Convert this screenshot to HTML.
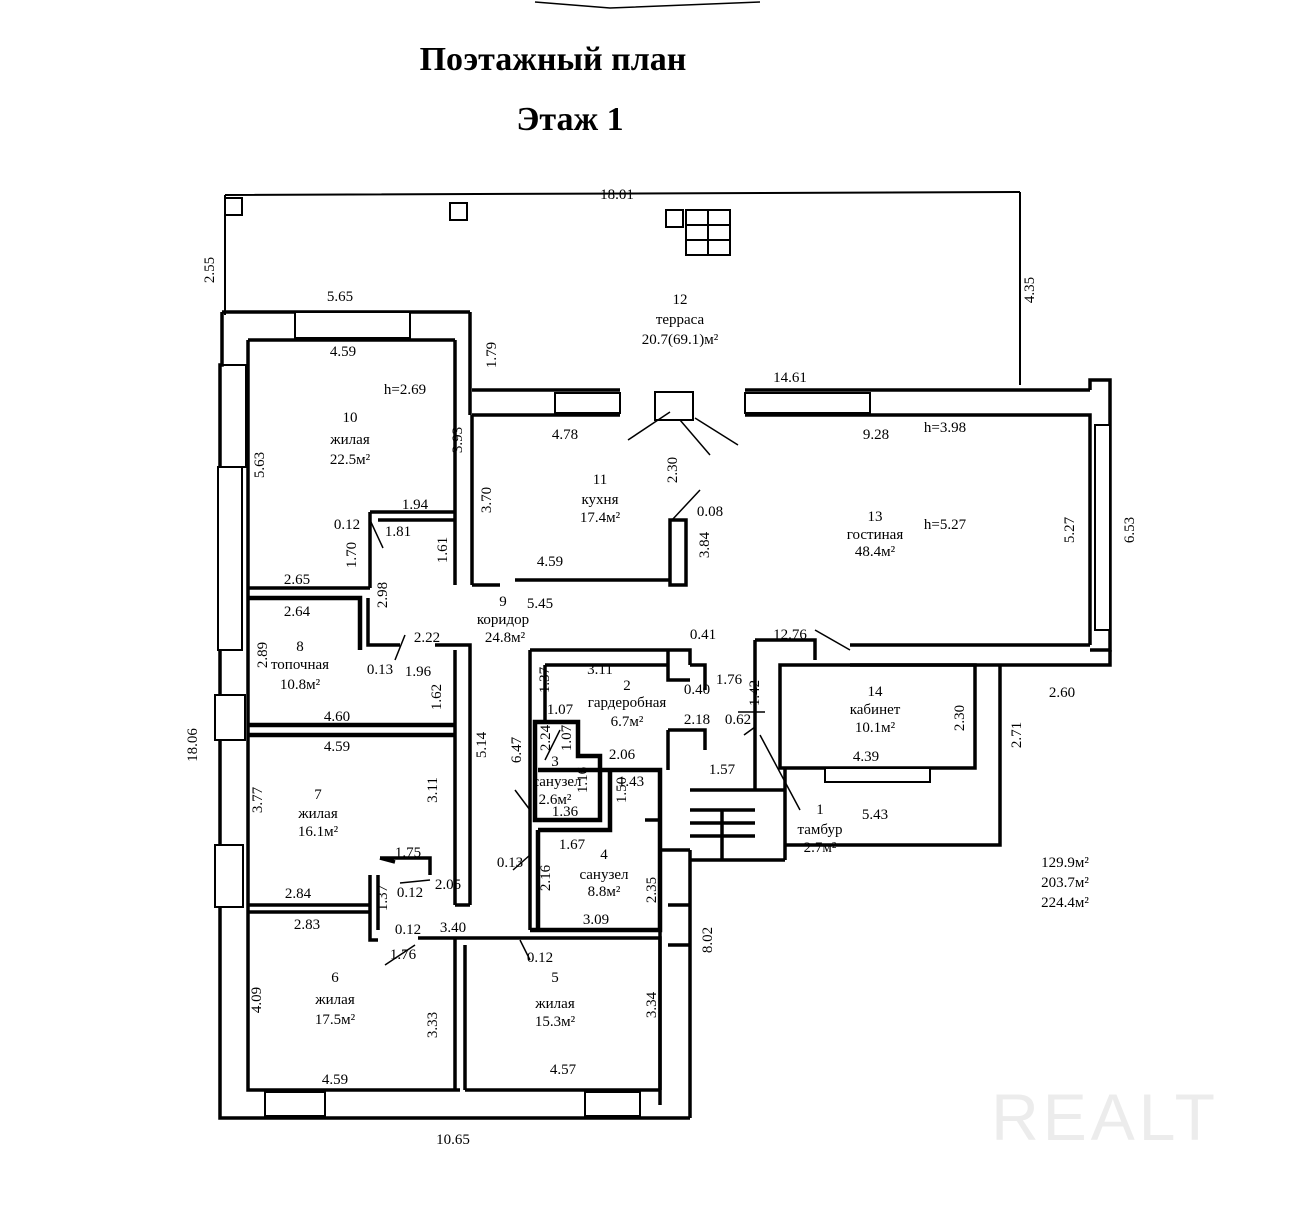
<!DOCTYPE html>
<html><head><meta charset="utf-8">
<style>
html,body{margin:0;padding:0;background:#fff;}
svg{display:block;}
text{font-family:"Liberation Serif","DejaVu Serif",serif;font-size:15px;fill:#000;text-anchor:middle;}
.t{font-size:34px;font-weight:bold;}
</style></head><body>
<svg width="1296" height="1209" viewBox="0 0 1296 1209" xmlns="http://www.w3.org/2000/svg">
<g fill="none" stroke="#000" stroke-width="2">
<path d="M535 2 L610 8 L760 2" stroke-width="1.5"/>
<path d="M225 195 L1020 192 M225 195 L225 315 M1020 192 L1020 385"/>
<rect x="225" y="198" width="17" height="17"/>
<rect x="450" y="203" width="17" height="17"/>
<rect x="666" y="210" width="17" height="17"/>
<rect x="686" y="210" width="44" height="45"/>
<path d="M708 210 V255 M686 225 H730 M686 240 H730"/>
<rect x="655" y="392" width="38" height="28"/>
</g>
<g fill="none" stroke="#000" stroke-width="3.5">
<path d="M222 312 L470 312 M222 312 L222 365 L220 365 L220 1118 L690 1118 M248 340 L455 340 M248 340 L248 1090 L460 1090"/>
<path d="M455 340 V585 M470 312 V415 M472 415 V585"/>
<path d="M472 390 H620 M472 415 H620 M745 390 H1090 M745 415 H1090 L1090 645 M1090 390 V380 H1110 V650 H1090"/>
<path d="M515 580 H670 M472 585 H500" />
<rect x="670" y="520" width="16" height="65"/>
<path d="M850 645 H1090 M850 665 H1000 V845 H785 M1110 650 V665 H1000"/>
<rect x="780" y="665" width="195" height="103"/>
<path d="M755 640 V790 H785 M755 640 H815 V660 M785 768 V860 M690 860 H785 M690 790 H770"/>
<path d="M690 810 H755 M690 823 H755 M690 836 H755 M722 810 V860"/>
<path d="M530 650 H690 V665 M530 650 V930 M545 665 H668 M545 665 V720"/>
<path d="M668 650 V680 H690 M690 665 H705 V690 M668 730 H705 V750 M668 730 V770"/>
<path d="M248 598 H360 V650 M248 725 H455 M248 735 H455" stroke-width="4.5"/>
<path d="M368 598 V645 H400"/>
<path d="M435 645 H470 V735 M455 650 V905 M470 735 V905 M455 905 H470"/>
<path d="M248 588 H370 M370 512 H455 M370 512 V588 M378 520 H455"/>
<path d="M248 905 H370 M248 912 H370 M370 875 V940 H378 M378 875 V930 M380 858 H430 V875 M380 858 L395 862"/>
<path d="M418 938 H485 M455 938 V1090 M465 945 V1090 M465 1090 H660 M485 938 H660 V1090"/>
<path d="M535 722 H578 V756 H600 V820 H535 Z" stroke-width="4.5"/>
<path d="M538 770 H660 V930 H530 M610 770 V830 H538 M538 830 V930" stroke-width="4.5"/>
<path d="M645 820 H660 M660 850 H690 M660 850 V1105 M690 850 V1118 M668 905 H690 V945 H668"/>
</g>
<g fill="#fff" stroke="#000" stroke-width="2">
<rect x="295" y="312" width="115" height="26"/>
<rect x="555" y="393" width="65" height="20"/>
<rect x="745" y="393" width="125" height="20"/>
<rect x="1095" y="425" width="15" height="205"/>
<rect x="218" y="467" width="24" height="183"/>
<rect x="215" y="695" width="30" height="45"/>
<rect x="215" y="845" width="28" height="62"/>
<rect x="265" y="1092" width="60" height="24"/>
<rect x="585" y="1092" width="55" height="24"/>
<rect x="825" y="768" width="105" height="14"/>
<rect x="220" y="365" width="26" height="102" fill="none"/>
</g>
<g stroke="#000" stroke-width="1.5">
<path d="M628 440 L670 412 M680 420 L710 455 M695 418 L738 445 M672 520 L700 490 M815 630 L850 650 M370 520 L383 548 M760 735 L800 810 M744 735 L755 727 M738 712 H765 M515 790 L530 810 M513 870 L530 855 M520 940 L530 960 M385 965 L415 945 M400 883 L430 880 M395 660 L405 635 M545 760 L560 730"/>
</g>
<text class="t" x="553" y="70">Поэтажный план</text>
<text class="t" x="570" y="130">Этаж 1</text>
<g>
<text x="617" y="199">18.01</text>
<text x="340" y="301">5.65</text><text x="343" y="356">4.59</text>
<text x="405" y="394">h=2.69</text><text x="350" y="422">10</text><text x="350" y="444">жилая</text><text x="350" y="464">22.5м²</text>
<text x="680" y="304">12</text><text x="680" y="324">терраса</text><text x="680" y="344">20.7(69.1)м²</text>
<text x="790" y="382">14.61</text><text x="565" y="439">4.78</text><text x="876" y="439">9.28</text><text x="945" y="432">h=3.98</text>
<text x="600" y="484">11</text><text x="600" y="504">кухня</text><text x="600" y="522">17.4м²</text><text x="710" y="516">0.08</text>
<text x="875" y="521">13</text><text x="875" y="539">гостиная</text><text x="875" y="556">48.4м²</text><text x="945" y="529">h=5.27</text>
<text x="415" y="509">1.94</text><text x="347" y="529">0.12</text><text x="398" y="536">1.81</text><text x="550" y="566">4.59</text>
<text x="297" y="584">2.65</text><text x="503" y="606">9</text><text x="540" y="608">5.45</text><text x="503" y="624">коридор</text><text x="505" y="642">24.8м²</text>
<text x="297" y="616">2.64</text><text x="427" y="642">2.22</text><text x="300" y="651">8</text><text x="300" y="669">топочная</text><text x="300" y="689">10.8м²</text>
<text x="380" y="674">0.13</text><text x="418" y="676">1.96</text><text x="703" y="639">0.41</text><text x="790" y="639">12.76</text>
<text x="600" y="674">3.11</text><text x="627" y="690">2</text><text x="627" y="707">гардеробная</text><text x="627" y="726">6.7м²</text>
<text x="697" y="694">0.40</text><text x="729" y="684">1.76</text><text x="875" y="696">14</text><text x="875" y="714">кабинет</text><text x="875" y="732">10.1м²</text>
<text x="1062" y="697">2.60</text><text x="560" y="714">1.07</text><text x="337" y="721">4.60</text><text x="697" y="724">2.18</text><text x="738" y="724">0.62</text>
<text x="337" y="751">4.59</text><text x="622" y="759">2.06</text><text x="722" y="774">1.57</text><text x="866" y="761">4.39</text>
<text x="555" y="766">3</text><text x="557" y="786">санузел</text><text x="555" y="804">2.6м²</text><text x="631" y="786">1.43</text>
<text x="318" y="799">7</text><text x="318" y="818">жилая</text><text x="318" y="836">16.1м²</text><text x="565" y="816">1.36</text>
<text x="875" y="819">5.43</text><text x="820" y="814">1</text><text x="820" y="834">тамбур</text><text x="820" y="852">2.7м²</text>
<text x="572" y="849">1.67</text><text x="604" y="859">4</text><text x="604" y="879">санузел</text><text x="604" y="896">8.8м²</text>
<text x="408" y="857">1.75</text><text x="510" y="867">0.13</text><text x="410" y="897">0.12</text><text x="298" y="898">2.84</text><text x="448" y="889">2.05</text>
<text x="1065" y="867">129.9м²</text><text x="1065" y="887">203.7м²</text><text x="1065" y="907">224.4м²</text>
<text x="596" y="924">3.09</text><text x="307" y="929">2.83</text><text x="408" y="934">0.12</text><text x="453" y="932">3.40</text>
<text x="403" y="959">1.76</text><text x="540" y="962">0.12</text>
<text x="335" y="982">6</text><text x="335" y="1004">жилая</text><text x="335" y="1024">17.5м²</text>
<text x="555" y="982">5</text><text x="555" y="1008">жилая</text><text x="555" y="1026">15.3м²</text>
<text x="335" y="1084">4.59</text><text x="563" y="1074">4.57</text><text x="453" y="1144">10.65</text>
</g>
<g>
<text transform="translate(214,270) rotate(-90)">2.55</text>
<text transform="translate(1034,290) rotate(-90)">4.35</text>
<text transform="translate(264,465) rotate(-90)">5.63</text>
<text transform="translate(462,440) rotate(-90)">3.93</text>
<text transform="translate(496,355) rotate(-90)">1.79</text>
<text transform="translate(491,500) rotate(-90)">3.70</text>
<text transform="translate(677,470) rotate(-90)">2.30</text>
<text transform="translate(709,545) rotate(-90)">3.84</text>
<text transform="translate(1074,530) rotate(-90)">5.27</text>
<text transform="translate(1134,530) rotate(-90)">6.53</text>
<text transform="translate(356,555) rotate(-90)">1.70</text>
<text transform="translate(447,550) rotate(-90)">1.61</text>
<text transform="translate(387,595) rotate(-90)">2.98</text>
<text transform="translate(267,655) rotate(-90)">2.89</text>
<text transform="translate(441,697) rotate(-90)">1.62</text>
<text transform="translate(486,745) rotate(-90)">5.14</text>
<text transform="translate(549,680) rotate(-90)">1.37</text>
<text transform="translate(521,750) rotate(-90)">6.47</text>
<text transform="translate(550,738) rotate(-90)">2.24</text>
<text transform="translate(571,738) rotate(-90)">1.07</text>
<text transform="translate(587,780) rotate(-90)">1.16</text>
<text transform="translate(626,790) rotate(-90)">1.50</text>
<text transform="translate(550,878) rotate(-90)">2.16</text>
<text transform="translate(656,890) rotate(-90)">2.35</text>
<text transform="translate(437,790) rotate(-90)">3.11</text>
<text transform="translate(262,800) rotate(-90)">3.77</text>
<text transform="translate(387,898) rotate(-90)">1.37</text>
<text transform="translate(261,1000) rotate(-90)">4.09</text>
<text transform="translate(437,1025) rotate(-90)">3.33</text>
<text transform="translate(656,1005) rotate(-90)">3.34</text>
<text transform="translate(712,940) rotate(-90)">8.02</text>
<text transform="translate(197,745) rotate(-90)">18.06</text>
<text transform="translate(759,693) rotate(-90)">1.42</text>
<text transform="translate(964,718) rotate(-90)">2.30</text>
<text transform="translate(1021,735) rotate(-90)">2.71</text>
</g>
<text x="1105" y="1140" style="font-family:'Liberation Sans',sans-serif;font-size:66px;fill:#ececec;letter-spacing:4px">REALT</text>
</svg>
</body></html>
